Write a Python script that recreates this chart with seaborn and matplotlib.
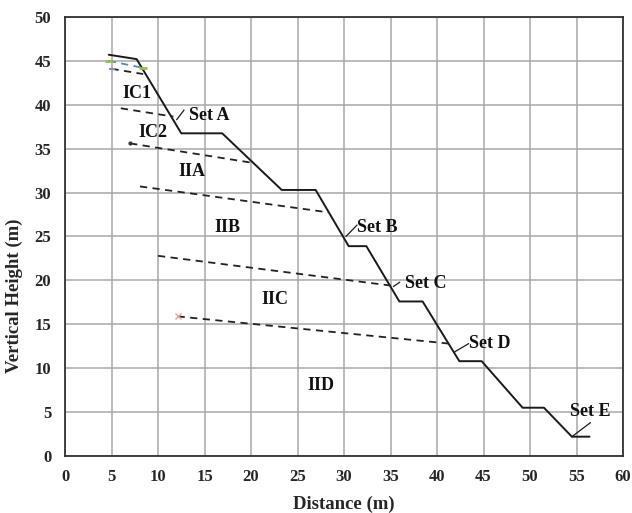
import matplotlib
matplotlib.use("Agg")
import matplotlib.pyplot as plt
import seaborn as sns
import pandas as pd

# Terrain profile (solid line)
profile_x = [4.7, 7.7, 12.5, 16.9, 23.3, 26.95, 30.5, 32.4, 35.95, 38.45, 42.4, 44.8, 49.2, 51.5, 54.5, 56.4]
profile_y = [45.7, 45.2, 36.75, 36.75, 30.3, 30.3, 23.9, 23.9, 17.6, 17.6, 10.8, 10.8, 5.5, 5.5, 2.2, 2.2]

# Discontinuity traces (dashed lines)
disc_names = ["top1", "top2", "setA", "IC2", "IIA", "IIC", "IID"]
disc_x0 = [4.7, 5.0, 6.0, 7.0, 8.06, 10.0, 12.1]
disc_y0 = [45.0, 44.1, 39.6, 35.6, 30.7, 22.8, 15.9]
disc_x1 = [8.4, 8.4, 11.65, 20.1, 28.3, 35.1, 41.3]
disc_y1 = [44.2, 43.5, 38.65, 33.4, 27.75, 19.4, 12.8]
disc_colors = ["#4f86c6", "#222222", "#222222", "#222222", "#222222", "#222222", "#222222"]

# Zone labels
zone_labels = ["IC1", "IC2", "IIA", "IIB", "IIC", "IID"]
zone_x = [7.7, 9.4, 13.6, 17.5, 22.6, 27.5]
zone_y = [41.3, 36.9, 32.4, 26.0, 17.85, 8.0]

# Set labels: text position and leader line
set_labels = ["Set A", "Set B", "Set C", "Set D", "Set E"]
set_x = [15.5, 33.6, 38.8, 45.7, 56.5]
set_y = [38.75, 26.0, 19.6, 12.8, 5.05]
lead_x0 = [12.0, 30.2, 35.3, 41.8, 54.5]
lead_y0 = [38.3, 25.0, 19.3, 11.8, 2.2]
lead_x1 = [12.8, 31.4, 36.0, 43.4, 56.5]
lead_y1 = [39.4, 26.3, 19.8, 12.8, 3.8]

x_ticks = list(range(0, 61, 5))
y_ticks = list(range(0, 51, 5))

sns.set_style("white")
plt.rcParams['font.family'] = ['Liberation Serif', 'DejaVu Serif']
plt.rcParams['font.weight'] = 'bold'

fig = plt.figure(figsize=(6.32, 5.13), dpi=100)
ax = fig.add_axes([0.1029, 0.1111, 0.8829, 0.8558])

df = pd.DataFrame({"x": profile_x, "y": profile_y})
sns.lineplot(data=df, x="x", y="y", sort=False, estimator=None, color="#1a1a1a", linewidth=1.4, ax=ax)

for i, n in enumerate(disc_names):
    d = pd.DataFrame({"x": [disc_x0[i], disc_x1[i]], "y": [disc_y0[i], disc_y1[i]]})
    sns.lineplot(data=d, x="x", y="y", sort=False, estimator=None, color=disc_colors[i],
                 linewidth=1.3, linestyle=(0, (4, 3)), ax=ax)

# small end markers
ax.plot([disc_x0[0], disc_x1[0]], [disc_y0[0], disc_y1[0]], linestyle="none", marker="_",
        color="#8cc63f", markersize=6, markeredgewidth=2)
ax.plot([disc_x0[1]], [disc_y0[1]], linestyle="none", marker="_", color="#9b7fc8", markersize=5, markeredgewidth=1.5)
ax.plot([disc_x0[6]], [disc_y0[6]], linestyle="none", marker="x", color="#e8a0a0", markersize=4, markeredgewidth=1)
ax.plot([disc_x0[3]], [disc_y0[3]], linestyle="none", marker="o", color="#333333", markersize=2)

for t, x, y in zip(zone_labels, zone_x, zone_y):
    ax.text(x, y, t, ha="center", va="center", fontsize=13, fontweight="bold", color="#111111")

for i, t in enumerate(set_labels):
    ax.plot([lead_x0[i], lead_x1[i]], [lead_y0[i], lead_y1[i]], color="#1a1a1a", linewidth=0.9)
    ax.text(set_x[i], set_y[i], t, ha="center", va="center", fontsize=13, fontweight="bold", color="#111111")

ax.set_xlim(0, 60)
ax.set_ylim(0, 50)
ax.set_xticks(x_ticks)
ax.set_yticks(y_ticks)
ax.grid(True, color="#a8a8a8", linewidth=1.1)
ax.set_axisbelow(True)
for s in ax.spines.values():
    s.set_color("#333333")
    s.set_linewidth(1.3)
ax.tick_params(axis="both", length=0, labelsize=12)
ax.tick_params(axis="y", pad=10)
ax.tick_params(axis="x", pad=9)
for lab in ax.get_xticklabels() + ax.get_yticklabels():
    lab.set_fontweight("bold")
ax.set_xlabel("Distance (m)", fontsize=13.5, fontweight="bold", labelpad=8)
ax.set_ylabel("Vertical Height (m)", fontsize=13.5, fontweight="bold", labelpad=8)
ax.yaxis.set_label_coords(-0.075, 0.364)

fig.savefig("out.png", dpi=100)
